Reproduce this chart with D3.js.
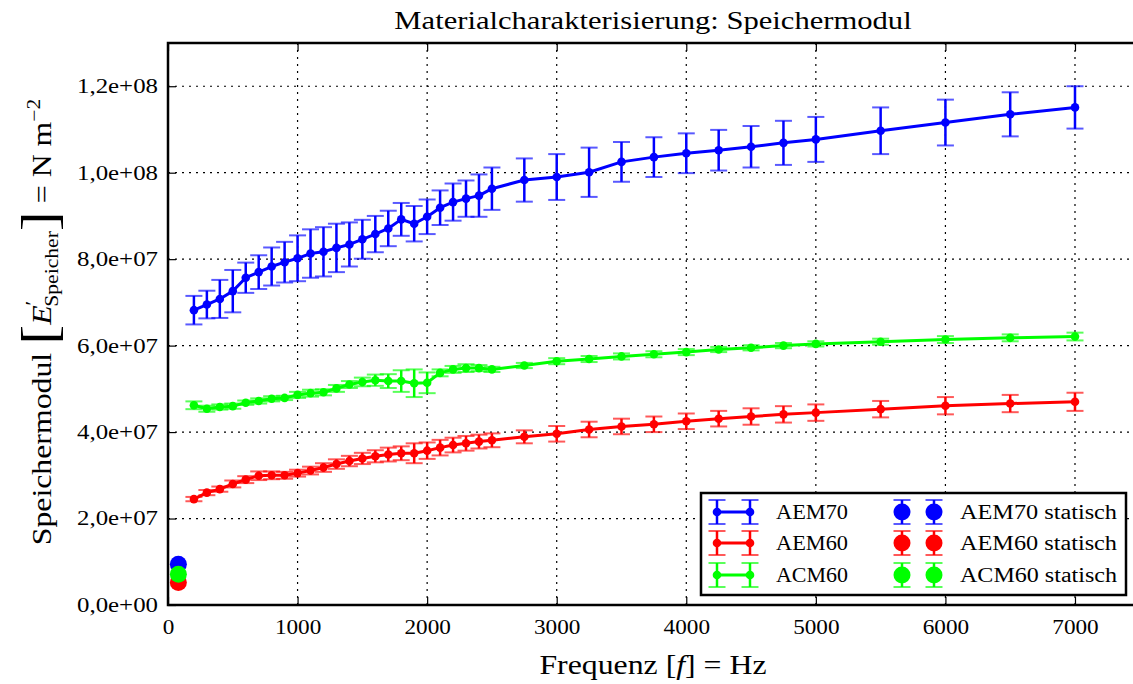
<!DOCTYPE html>
<html>
<head>
<meta charset="utf-8">
<script src="https://cdn.jsdelivr.net/npm/d3@7"></script>
<style>
  body { margin: 0; background: #fff; }
  svg { display: block; }
  text { font-family: "Liberation Serif", "DejaVu Serif", serif; fill: #000; }
</style>
</head>
<body>
<svg id="chart" width="1133" height="684"></svg>
<script>
// Frequencies of the dynamic measurement (Hz)
const freq = [200, 300, 400, 500, 600, 700, 800, 900, 1000, 1100, 1200, 1300, 1400, 1500,
  1600, 1700, 1800, 1900, 2000, 2100, 2200, 2300, 2400, 2500, 2750, 3000, 3250, 3500,
  3750, 4000, 4250, 4500, 4750, 5000, 5500, 6000, 6500, 7000];

// Storage modulus, in units of 1e7 N/m^2
const aem70 = [6.82, 6.95, 7.08, 7.26, 7.57, 7.70, 7.83, 7.93, 8.02, 8.13, 8.17, 8.26, 8.34, 8.46,
  8.58, 8.71, 8.92, 8.82, 8.98, 9.19, 9.32, 9.40, 9.47, 9.63, 9.83, 9.90, 10.01, 10.25,
  10.36, 10.45, 10.52, 10.60, 10.69, 10.77, 10.97, 11.16, 11.35, 11.51];
const aem70Err = [0.33, 0.32, 0.44, 0.49, 0.35, 0.39, 0.44, 0.47, 0.53, 0.56, 0.57, 0.56, 0.51, 0.45,
  0.42, 0.41, 0.38, 0.41, 0.40, 0.40, 0.43, 0.42, 0.49, 0.49, 0.50, 0.53, 0.57, 0.46,
  0.46, 0.46, 0.47, 0.48, 0.51, 0.52, 0.54, 0.53, 0.51, 0.49];

const aem60 = [2.45, 2.60, 2.68, 2.80, 2.90, 2.99, 3.00, 3.00, 3.05, 3.11, 3.18, 3.26, 3.33, 3.39,
  3.44, 3.48, 3.51, 3.51, 3.57, 3.64, 3.70, 3.74, 3.78, 3.81, 3.89, 3.96, 4.06, 4.13,
  4.18, 4.25, 4.31, 4.36, 4.41, 4.45, 4.53, 4.61, 4.66, 4.70];
const aem60Err = [0.05, 0.06, 0.06, 0.08, 0.08, 0.10, 0.09, 0.08, 0.08, 0.09, 0.10, 0.11, 0.12, 0.13,
  0.14, 0.16, 0.16, 0.23, 0.19, 0.18, 0.17, 0.17, 0.16, 0.16, 0.15, 0.18, 0.18, 0.18,
  0.18, 0.18, 0.18, 0.19, 0.19, 0.19, 0.19, 0.20, 0.20, 0.21];

const acm60 = [4.62, 4.54, 4.58, 4.60, 4.68, 4.72, 4.77, 4.79, 4.86, 4.90, 4.92, 5.01, 5.10, 5.16,
  5.20, 5.18, 5.18, 5.13, 5.14, 5.37, 5.45, 5.48, 5.48, 5.45, 5.54, 5.64, 5.69, 5.75,
  5.80, 5.85, 5.91, 5.95, 6.00, 6.04, 6.09, 6.14, 6.18, 6.21];
const acm60Err = [0.09, 0.07, 0.06, 0.06, 0.05, 0.06, 0.06, 0.05, 0.07, 0.08, 0.07, 0.08, 0.08, 0.10,
  0.13, 0.16, 0.25, 0.32, 0.24, 0.08, 0.08, 0.09, 0.07, 0.06, 0.06, 0.07, 0.07, 0.07,
  0.07, 0.07, 0.06, 0.06, 0.06, 0.06, 0.07, 0.08, 0.08, 0.09];

// Static measurements
const staticFreq = 80;
const staticNames = ["AEM70 statisch", "AEM60 statisch", "ACM60 statisch"];
const staticValues = [0.94, 0.52, 0.71];

const seriesNames = ["AEM70", "AEM60", "ACM60"];
const seriesColors = ["#0000ff", "#ff0000", "#00ff00"];

const xTicks = [0, 1000, 2000, 3000, 4000, 5000, 6000, 7000];
const yTicks = [0, 2, 4, 6, 8, 10, 12];
const yTickLabels = ["0,0e+00", "2,0e+07", "4,0e+07", "6,0e+07", "8,0e+07", "1,0e+08", "1,2e+08"];

const UNIT = 1e7;

const svg = d3.select("#chart");
const W = 1133, H = 684;
const m = { left: 168, top: 43, bottom: 605 };

const x = d3.scaleLinear().domain([0, 7500]).range([m.left, m.left + 7.5 * 129.57]);
const y = d3.scaleLinear().domain([0, 13 * UNIT]).range([m.bottom, m.top]);

// Grid (dotted)
const grid = svg.append("g").attr("stroke", "#000").attr("stroke-width", 1.2)
  .attr("stroke-dasharray", "2,5");
xTicks.slice(1).forEach(t => grid.append("line")
  .attr("x1", x(t)).attr("x2", x(t)).attr("y1", m.top).attr("y2", m.bottom));
yTicks.slice(1).forEach(t => grid.append("line")
  .attr("x1", m.left).attr("x2", W).attr("y1", y(t * UNIT)).attr("y2", y(t * UNIT)));

// Axes with inward ticks
const xAxisB = d3.axisBottom(x).tickValues(xTicks).tickSize(-8).tickPadding(15).tickFormat(d3.format("d"));
const xAxisT = d3.axisTop(x).tickValues(xTicks).tickSize(-8).tickFormat("");
const yAxisL = d3.axisLeft(y).tickValues(yTicks.map(v => v * UNIT)).tickSize(-8).tickPadding(10)
  .tickFormat((d, i) => yTickLabels[i]);

function styleAxis(g) {
  g.select(".domain").remove();
  g.selectAll(".tick line").attr("stroke", "#000").attr("stroke-width", 1.2);
  g.selectAll(".tick text").attr("font-size", 20).attr("fill", "#000")
    .style("font-family", '"Liberation Serif", serif');
}
svg.append("g").attr("transform", `translate(0,${m.bottom})`).call(xAxisB).call(styleAxis)
  .selectAll(".tick text")
  .attr("textLength", d => String(d).length * 11.6).attr("lengthAdjust", "spacingAndGlyphs");
svg.append("g").attr("transform", `translate(0,${m.top})`).call(xAxisT).call(styleAxis);
svg.append("g").attr("transform", `translate(${m.left},0)`).call(yAxisL).call(styleAxis)
  .selectAll(".tick text").attr("textLength", 81).attr("lengthAdjust", "spacingAndGlyphs");

// Data series
const series = [
  { name: seriesNames[0], vals: aem70, err: aem70Err, color: seriesColors[0] },
  { name: seriesNames[1], vals: aem60, err: aem60Err, color: seriesColors[1] },
  { name: seriesNames[2], vals: acm60, err: acm60Err, color: seriesColors[2] }
];

const plot = svg.append("g");
const capW = 8.5;
const line = d3.line().x(d => x(d.f)).y(d => y(d.v));

series.forEach(s => {
  const pts = freq.map((f, i) => ({ f, v: s.vals[i] * UNIT, e: s.err[i] * UNIT }));
  const g = plot.append("g");
  g.append("path").datum(pts).attr("d", line).attr("fill", "none")
    .attr("stroke", s.color).attr("stroke-width", 3).attr("stroke-linejoin", "round");
  g.selectAll(".eb").data(pts).join("line")
    .attr("x1", d => x(d.f)).attr("x2", d => x(d.f))
    .attr("y1", d => y(d.v - d.e)).attr("y2", d => y(d.v + d.e))
    .attr("stroke", s.color).attr("stroke-width", 2.5);
  ["lo", "hi"].forEach(k => {
    g.selectAll(".cap" + k).data(pts).join("line")
      .attr("x1", d => x(d.f) - capW).attr("x2", d => x(d.f) + capW)
      .attr("y1", d => y(k === "lo" ? d.v - d.e : d.v + d.e))
      .attr("y2", d => y(k === "lo" ? d.v - d.e : d.v + d.e))
      .attr("stroke", s.color).attr("stroke-width", 2).attr("stroke-opacity", 0.65);
  });
  g.selectAll("circle").data(pts).join("circle")
    .attr("cx", d => x(d.f)).attr("cy", d => y(d.v)).attr("r", 4.3).attr("fill", s.color);
});

// Static points
staticValues.forEach((v, i) => {
  plot.append("circle").attr("cx", x(staticFreq)).attr("cy", y(v * UNIT))
    .attr("r", 8.5).attr("fill", seriesColors[i]);
});

// Frame
svg.append("path")
  .attr("d", `M${W + 5},${m.top}H${m.left}V${m.bottom}H${W + 5}`)
  .attr("fill", "none").attr("stroke", "#000").attr("stroke-width", 2.5);

// Title
svg.append("text").attr("transform", "translate(653,29) scale(1.2,1)")
  .attr("text-anchor", "middle").attr("font-size", 25.5)
  .text("Materialcharakterisierung: Speichermodul");

// X label
const xl = svg.append("text").attr("transform", "translate(653,674) scale(1.2,1)")
  .attr("text-anchor", "middle").attr("font-size", 26.5);
xl.append("tspan").text("Frequenz [");
xl.append("tspan").attr("font-style", "italic").text("f");
xl.append("tspan").text("]  =  Hz");

// Y label
const yl = svg.append("text").attr("transform", "translate(51,322) rotate(-90) scale(1.2,1)")
  .attr("text-anchor", "middle").attr("font-size", 26.5);
yl.append("tspan").text("Speichermodul  ");
yl.append("tspan").attr("font-size", 50).attr("dy", 5).attr("font-weight", 300).text("[");
yl.append("tspan").attr("font-style", "italic").attr("dy", -5).text("E");
yl.append("tspan").attr("font-size", 18).attr("dy", -12).text("′");
yl.append("tspan").attr("font-size", 18).attr("dy", 19).attr("dx", -5).text("Speicher");
yl.append("tspan").attr("font-size", 50).attr("dy", -2).text("]");
yl.append("tspan").attr("dy", -5).text("  =  N m");
yl.append("tspan").attr("font-size", 18).attr("dy", -11).text("−2");

// Legend
const lg = svg.append("g");
lg.append("rect").attr("x", 701).attr("y", 493).attr("width", 425).attr("height", 102)
  .attr("fill", "#fff").attr("stroke", "#000").attr("stroke-width", 2.5);
const rowY = [512, 543, 575];
series.forEach((s, i) => {
  const yy = rowY[i];
  const xa = 717, xb = 750;
  lg.append("line").attr("x1", xa).attr("x2", xb).attr("y1", yy).attr("y2", yy)
    .attr("stroke", s.color).attr("stroke-width", 3);
  [xa, xb].forEach(xx => {
    lg.append("line").attr("x1", xx).attr("x2", xx).attr("y1", yy - 12).attr("y2", yy + 12)
      .attr("stroke", s.color).attr("stroke-width", 2.5);
    [yy - 12, yy + 12].forEach(cy => lg.append("line")
      .attr("x1", xx - capW).attr("x2", xx + capW).attr("y1", cy).attr("y2", cy)
      .attr("stroke", s.color).attr("stroke-width", 2).attr("stroke-opacity", 0.65));
    lg.append("circle").attr("cx", xx).attr("cy", yy).attr("r", 4.3).attr("fill", s.color);
  });
  lg.append("text").attr("x", 776).attr("y", yy + 7).attr("font-size", 20.5)
    .attr("textLength", 72).attr("lengthAdjust", "spacingAndGlyphs").text(s.name);

  [902, 934].forEach(xx => {
    lg.append("line").attr("x1", xx).attr("x2", xx).attr("y1", yy - 12).attr("y2", yy + 12)
      .attr("stroke", seriesColors[i]).attr("stroke-width", 2.5);
    [yy - 12, yy + 12].forEach(cy => lg.append("line")
      .attr("x1", xx - capW).attr("x2", xx + capW).attr("y1", cy).attr("y2", cy)
      .attr("stroke", seriesColors[i]).attr("stroke-width", 2).attr("stroke-opacity", 0.65));
    lg.append("circle").attr("cx", xx).attr("cy", yy).attr("r", 8.5).attr("fill", seriesColors[i]);
  });
  lg.append("text").attr("x", 960).attr("y", yy + 7).attr("font-size", 20.5)
    .attr("textLength", 157).attr("lengthAdjust", "spacingAndGlyphs").text(staticNames[i]);
});
</script>
</body>
</html>
